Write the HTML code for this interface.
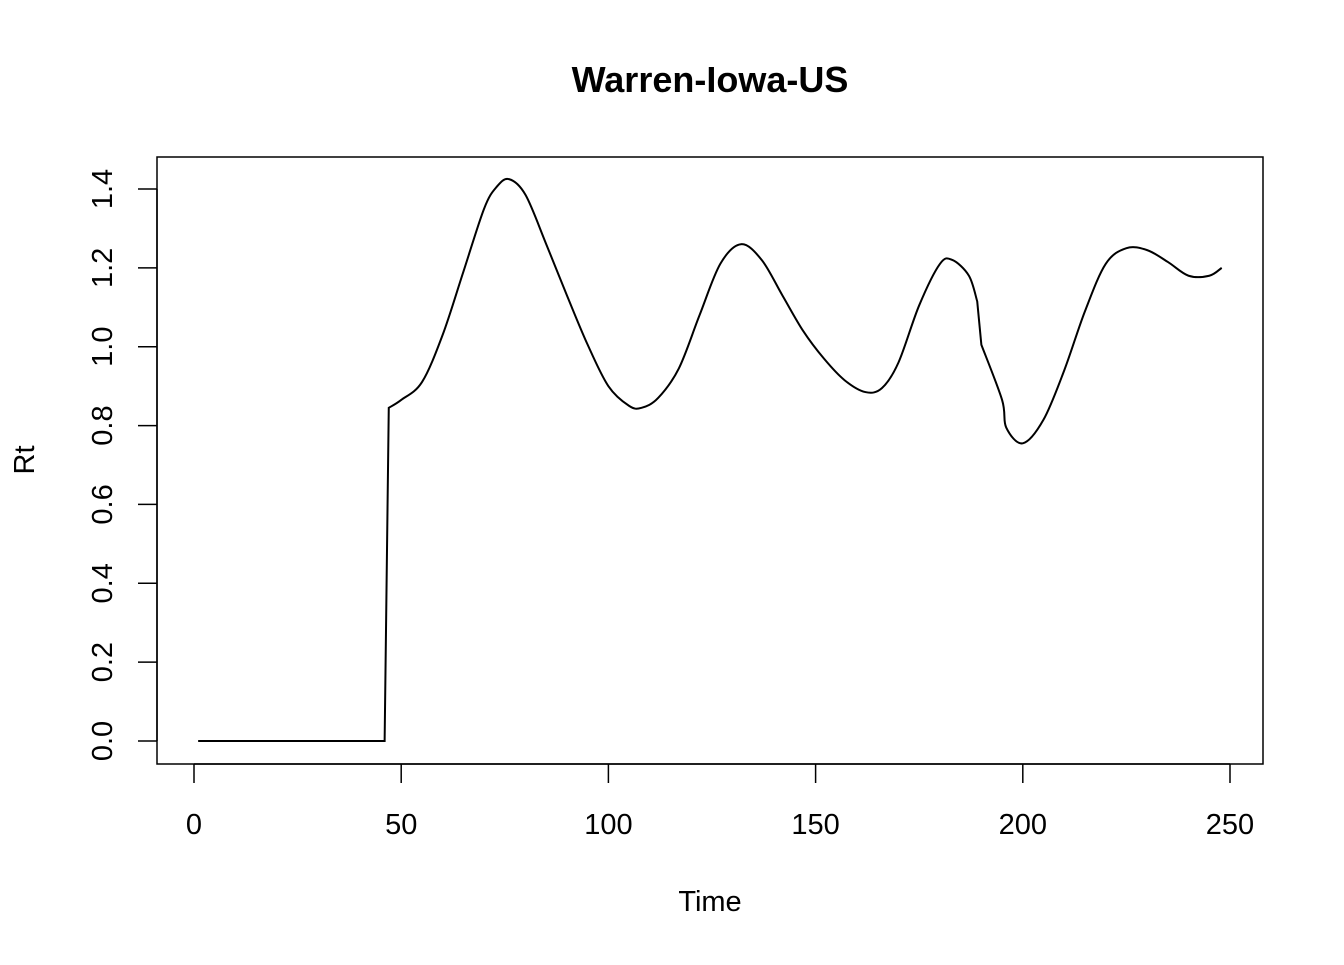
<!DOCTYPE html>
<html><head><meta charset="utf-8"><style>
html,body{margin:0;padding:0;background:#fff;}
svg text{font-family:"Liberation Sans",Arial,sans-serif;fill:#000;}
</style></head><body>
<svg id="chart" width="1344" height="960" viewBox="0 0 1344 960">
<text x="710" y="92" text-anchor="middle" font-size="36" font-weight="bold">Warren-Iowa-US</text>
<rect x="157" y="157" width="1106" height="607" fill="none" stroke="#000" stroke-width="1.5"/>
<g id="xaxis"></g>
<g id="yaxis"></g>
<text x="710" y="911" text-anchor="middle" font-size="29">Time</text>
<text transform="translate(34,460) rotate(-90)" text-anchor="middle" font-size="29">Rt</text>
<path id="line" fill="none" stroke="#000" stroke-width="2"/>
</svg>
<script>
const times=[1,46,47,50,55,60,65,70,73,76,80,85,90,95,100,105,108,112,117,122,127,132,137,142,147,152,157,162,166,170,175,180,183,187,189,190,195,196,200,205,210,215,220,225,230,235,240,245,248];
const rtValues=[0,0,0.845,0.865,0.91,1.03,1.19,1.35,1.405,1.425,1.385,1.26,1.13,1.005,0.90,0.85,0.845,0.87,0.945,1.08,1.21,1.26,1.22,1.13,1.04,0.97,0.915,0.885,0.895,0.96,1.105,1.21,1.22,1.18,1.115,1.005,0.865,0.795,0.755,0.815,0.94,1.09,1.21,1.25,1.245,1.215,1.18,1.18,1.2];
const xTicks=[0,50,100,150,200,250];
const yTicks=["0.0","0.2","0.4","0.6","0.8","1.0","1.2","1.4"];
const NS="http://www.w3.org/2000/svg";
function xs(v){return 194+v*(1230-194)/250;}
function ys(v){return 741-v*(741-189)/1.4;}
const xa=document.getElementById('xaxis'),ya=document.getElementById('yaxis');
function mk(t,a,p){const e=document.createElementNS(NS,t);for(const k in a)e.setAttribute(k,a[k]);p.appendChild(e);return e;}
mk('line',{x1:xs(0),x2:xs(250),y1:764,y2:764,stroke:'#000','stroke-width':1.5},xa);
xTicks.forEach(t=>{
 const l=mk('line',{x1:xs(t),x2:xs(t),y1:764,y2:783,stroke:'#000','stroke-width':1.5},xa);
 
 
 const tx=mk('text',{x:xs(t),y:834,'text-anchor':'middle','font-size':29},xa);tx.textContent=t;
 
 
});
mk('line',{x1:157,x2:157,y1:ys(0),y2:ys(1.4),stroke:'#000','stroke-width':1.5},ya);
yTicks.forEach(t=>{
 const v=parseFloat(t);
 const l=mk('line',{x1:138,x2:157,y1:ys(v),y2:ys(v),stroke:'#000','stroke-width':1.5},ya);
 
 
 const tx=mk('text',{transform:`translate(112,${ys(v)}) rotate(-90)`,'text-anchor':'middle','font-size':29},ya);tx.textContent=t;
 
 
});
// smoothed path (Catmull-Rom), with sharp corners at breaks
const P=times.map((t,i)=>[xs(t),ys(rtValues[i])]);
const sharp=new Set([1,2,34,35]);
let d='M'+P[0][0]+','+P[0][1];
for(let i=0;i<P.length-1;i++){
 const p0=P[Math.max(0,i-1)],p1=P[i],p2=P[i+1],p3=P[Math.min(P.length-1,i+2)];
 if(sharp.has(i)&&sharp.has(i+1)||i===0||i===1){d+=' L'+p2[0]+','+p2[1];continue;}
 const a=sharp.has(i)?p1:p0, b=sharp.has(i+1)?p2:p3;
 const c1=[p1[0]+(p2[0]-a[0])/6,p1[1]+(p2[1]-a[1])/6];
 const c2=[p2[0]-(b[0]-p1[0])/6,p2[1]-(b[1]-p1[1])/6];
 d+=` C${c1[0]},${c1[1]} ${c2[0]},${c2[1]} ${p2[0]},${p2[1]}`;
}
document.getElementById('line').setAttribute('d',d);
</script>
</body></html>
